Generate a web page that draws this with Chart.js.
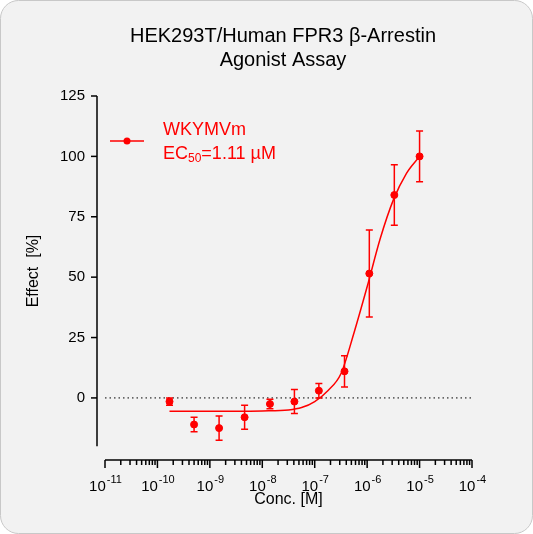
<!DOCTYPE html>
<html><head><meta charset="utf-8">
<script src="https://cdn.jsdelivr.net/npm/chart.js@4"></script>
<style>html,body{margin:0;padding:0;background:#fff}#wrap{width:533px;height:534px}</style>
</head><body><div id="wrap"><canvas id="c" width="533" height="534"></canvas></div>
<script>
// measured points
const conc = [1.7e-10, 5e-10, 1.5e-9, 4.6e-9, 1.4e-8, 4.1e-8, 1.2e-7, 3.7e-7, 1.1e-6, 3.3e-6, 1e-5];
const effect = [-1.5, -11, -12.5, -8, -2.5, -1.5, 3, 11, 51.5, 84, 100];
const errs = [1.5, 3, 5, 5, 2, 5, 3, 6.5, 18, 12.5, 10.5];
// fitted curve
const curveLogX = [-9.77, -9.5, -9, -8.5, -8, -7.5, -7.25, -7, -6.75, -6.5, -6.25, -6, -5.75, -5.5, -5.25, -5];
const curveY = [-5.5, -5.5, -5.5, -5.5, -5.4, -5, -4, -1.5, 3, 10, 27, 46, 66, 82, 93, 100];
const yTicks = [0, 25, 50, 75, 100, 125];
const xExps = [-11, -10, -9, -8, -7, -6, -5, -4];
const RED = '#ff0000';
const FONT = '"Liberation Sans", Arial, sans-serif';

const deco = {
  id: 'deco',
  beforeDraw(chart) {
    const c = chart.ctx;
    c.save();
    c.fillStyle = '#f2f2f2';
    c.strokeStyle = '#c8c8c8';
    c.lineWidth = 1;
    c.beginPath();
    c.roundRect(0.5, 0.5, 532, 533, 18);
    c.fill(); c.stroke();
    c.restore();
  },
  afterDatasetsDraw(chart) {
    const c = chart.ctx, x = chart.scales.x, y = chart.scales.y;
    const a = chart.chartArea;
    c.save();
    // zero line
    c.strokeStyle = '#000'; c.lineWidth = 1; c.setLineDash([1.5, 3]);
    c.beginPath(); c.moveTo(a.left, y.getPixelForValue(0)); c.lineTo(a.right, y.getPixelForValue(0)); c.stroke();
    c.setLineDash([]);
    // error bars
    c.strokeStyle = RED; c.lineWidth = 1.5;
    conc.forEach((v, i) => {
      const px = x.getPixelForValue(v);
      const t = y.getPixelForValue(effect[i] + errs[i]), b = y.getPixelForValue(effect[i] - errs[i]);
      c.beginPath();
      c.moveTo(px, t); c.lineTo(px, b);
      c.moveTo(px - 3.5, t); c.lineTo(px + 3.5, t);
      c.moveTo(px - 3.5, b); c.lineTo(px + 3.5, b);
      c.stroke();
    });
    // axes
    c.strokeStyle = '#000'; c.lineWidth = 1.5; c.fillStyle = '#000';
    const ax = a.left - 8;
    c.beginPath(); c.moveTo(ax, y.getPixelForValue(-20)); c.lineTo(ax, y.getPixelForValue(125)); c.stroke();
    c.font = '15px ' + FONT; c.textAlign = 'right'; c.textBaseline = 'middle';
    yTicks.forEach(t => {
      const py = y.getPixelForValue(t);
      c.beginPath(); c.moveTo(ax - 6, py); c.lineTo(ax, py); c.stroke();
      c.fillText(String(t), ax - 12, py);
    });
    const ay = a.bottom;
    c.beginPath(); c.moveTo(a.left, ay); c.lineTo(a.right, ay); c.stroke();
    for (let e = -11; e <= -4; e++) {
      for (let m = 1; m <= 9; m++) {
        if (e === -4 && m > 1) break;
        const px = x.getPixelForValue(m * Math.pow(10, e));
        c.beginPath(); c.moveTo(px, ay); c.lineTo(px, ay + (m === 1 ? 8 : 5)); c.stroke();
      }
    }
    xExps.forEach(e => {
      const px = x.getPixelForValue(Math.pow(10, e));
      c.font = '15px ' + FONT;
      const w1 = c.measureText('10').width;
      c.font = '11px ' + FONT;
      const w2 = c.measureText(String(e)).width;
      const x0 = px - (w1 + w2) / 2;
      c.textAlign = 'left'; c.textBaseline = 'alphabetic';
      c.font = '15px ' + FONT; c.fillText('10', x0, ay + 31);
      c.font = '11px ' + FONT; c.fillText(String(e), x0 + w1 + 1, ay + 23);
    });
    // axis titles
    c.textAlign = 'center'; c.textBaseline = 'middle';
    c.font = '16px ' + FONT;
    c.fillText('Conc. [M]', (a.left + a.right) / 2, 500);
    c.save(); c.translate(34, 271); c.rotate(-Math.PI / 2); c.fillText('Effect  [%]', 0, 0); c.restore();
    // title
    c.font = '20px ' + FONT;
    c.fillText('HEK293T/Human FPR3 β-Arrestin', 283, 36);
    c.fillText('Agonist Assay', 283, 60);
    // legend
    c.strokeStyle = RED; c.fillStyle = RED; c.lineWidth = 1.5;
    c.beginPath(); c.moveTo(110, 141); c.lineTo(144, 141); c.stroke();
    c.beginPath(); c.arc(127, 141, 3.5, 0, Math.PI * 2); c.fill();
    c.textAlign = 'left';
    c.font = '18px ' + FONT;
    c.fillText('WKYMVm', 163, 130);
    c.fillText('EC', 163, 154);
    let w = c.measureText('EC').width;
    c.font = '12px ' + FONT;
    c.fillText('50', 163 + w, 159);
    w += c.measureText('50').width;
    c.font = '18px ' + FONT;
    c.fillText('=1.11 µM', 163 + w, 154);
    c.restore();
  }
};

new Chart(document.getElementById('c'), {
  type: 'scatter',
  data: {
    datasets: [
      { data: conc.map((v, i) => ({ x: v, y: effect[i] })), backgroundColor: RED, borderColor: RED, pointRadius: 3.5, pointHoverRadius: 3.5 },
      { data: curveLogX.map((v, i) => ({ x: Math.pow(10, v), y: curveY[i] })), showLine: true, borderColor: RED, borderWidth: 1.5, pointRadius: 0, cubicInterpolationMode: 'monotone' }
    ]
  },
  options: {
    responsive: false, animation: false,
    layout: { padding: { top: 96, right: 61, left: 105, bottom: 74 } },
    plugins: { legend: { display: false }, tooltip: { enabled: false } },
    scales: {
      x: { type: 'logarithmic', min: 1e-11, max: 1e-4, display: false },
      y: { min: -25.7, max: 125, display: false }
    }
  },
  plugins: [deco]
});
</script></body></html>
